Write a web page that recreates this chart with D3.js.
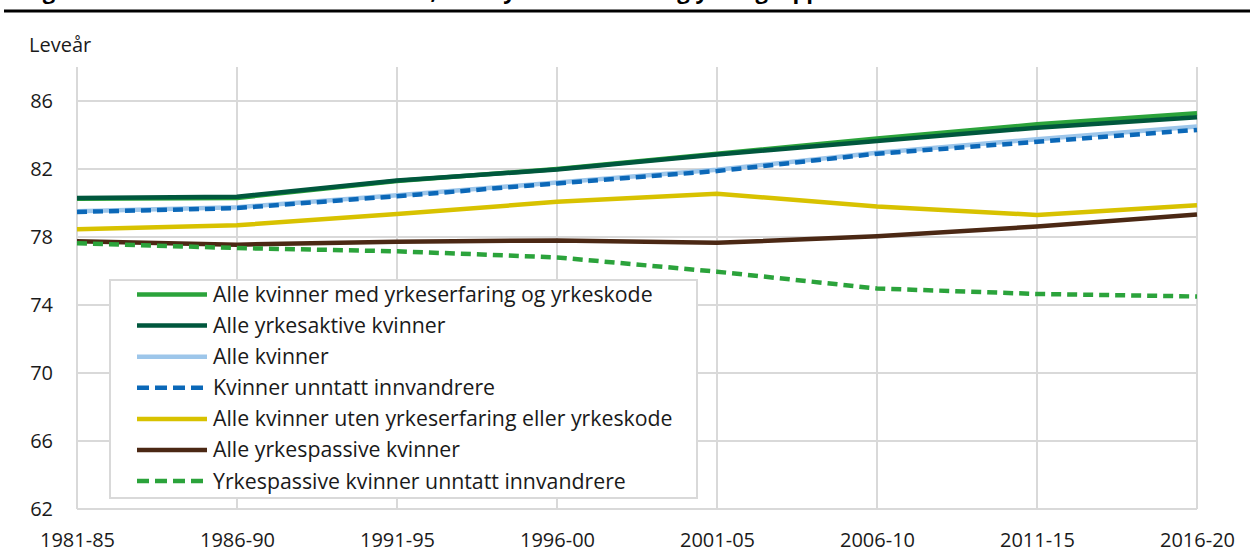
<!DOCTYPE html>
<html>
<head>
<meta charset="utf-8">
<script src="https://cdn.jsdelivr.net/npm/d3@7"></script>
<style>
  body { margin: 0; background: #fff; }
  svg { display: block; font-family: "Open Sans", "Noto Sans", sans-serif; }
</style>
</head>
<body>
<div id="chart"></div>
<script>
// periods on the x axis
const periods = ["1981-85", "1986-90", "1991-95", "1996-00", "2001-05", "2006-10", "2011-15", "2016-20"];
const yTicks = [62, 66, 70, 74, 78, 82, 86];

// series values (leveår)
const medYrkeskode = [80.25, 80.3, 81.3, 82.0, 82.9, 83.8, 84.63, 85.28];
const yrkesaktive = [80.3, 80.37, 81.32, 81.97, 82.85, 83.65, 84.43, 85.04];
const alleKvinner = [79.52, 79.75, 80.45, 81.2, 81.95, 82.95, 83.75, 84.5];
const unntattInnv = [79.47, 79.7, 80.4, 81.15, 81.88, 82.9, 83.6, 84.3];
const utenYrkeskode = [78.45, 78.69, 79.35, 80.07, 80.55, 79.8, 79.3, 79.87];
const yrkespassive = [77.75, 77.55, 77.72, 77.8, 77.66, 78.04, 78.62, 79.32];
const passivUnntatt = [77.63, 77.35, 77.16, 76.8, 75.96, 74.97, 74.65, 74.5];

const series = [
  { name: "Alle kvinner med yrkeserfaring og yrkeskode", values: medYrkeskode, color: "#2ba33b", dash: null },
  { name: "Alle yrkesaktive kvinner", values: yrkesaktive, color: "#00573d", dash: null },
  { name: "Alle kvinner", values: alleKvinner, color: "#9dc6ea", dash: null },
  { name: "Kvinner unntatt innvandrere", values: unntattInnv, color: "#0b68b8", dash: "10,6" },
  { name: "Alle kvinner uten yrkeserfaring eller yrkeskode", values: utenYrkeskode, color: "#d8c200", dash: null },
  { name: "Alle yrkespassive kvinner", values: yrkespassive, color: "#4b2814", dash: null },
  { name: "Yrkespassive kvinner unntatt innvandrere", values: passivUnntatt, color: "#2ba33b", dash: "10,6" }
];

const width = 1250, height = 554;
const margin = { top: 67, right: 53, bottom: 45, left: 77 };
const fontSize = "20px";

const svg = d3.select("#chart").append("svg")
    .attr("width", width)
    .attr("height", height);

// title (mostly cut off at top of the image) and rule under it
svg.append("text")
    .attr("x", 24)
    .attr("y", -1)
    .style("font-size", "22px")
    .style("font-weight", "bold")
    .attr("fill", "#000")
    .text("Figur 3. Forventet levealder ved 30 år, etter yrkesaktivitet og yrkesgruppe. Kvinner");
svg.append("rect")
    .attr("x", 4).attr("y", 9.5)
    .attr("width", width - 4).attr("height", 3)
    .attr("fill", "#000");

const x = d3.scalePoint()
    .domain(periods)
    .range([margin.left, width - margin.right]);

const y = d3.scaleLinear()
    .domain([62, 88])
    .range([height - margin.bottom, margin.top]);

const grid = svg.append("g");

// vertical grid lines at each period
grid.selectAll(".vgrid")
  .data(periods)
  .enter().append("line")
    .attr("class", "vgrid")
    .attr("x1", d => x(d)).attr("x2", d => x(d))
    .attr("y1", y(88)).attr("y2", y(62))
    .attr("stroke", "#d9d9d9")
    .attr("stroke-width", 2);

// horizontal grid lines
grid.selectAll(".hgrid")
  .data(yTicks)
  .enter().append("line")
    .attr("class", "hgrid")
    .attr("x1", margin.left).attr("x2", width - margin.right)
    .attr("y1", d => y(d)).attr("y2", d => y(d))
    .attr("stroke", "#d9d9d9")
    .attr("stroke-width", 2);

// y axis labels
const yAxis = svg.append("g")
    .attr("transform", `translate(${margin.left - 24},0)`)
    .call(d3.axisLeft(y).tickValues(yTicks).tickSize(0).tickPadding(0));
yAxis.select(".domain").remove();
yAxis.selectAll("text")
    .style("font-size", fontSize)
    .style("font-family", "'Open Sans', sans-serif")
    .attr("fill", "#1a1a1a");

// x axis labels
const xAxis = svg.append("g")
    .attr("transform", `translate(0,${height - margin.bottom})`)
    .call(d3.axisBottom(x).tickSize(0).tickPadding(24));
xAxis.select(".domain").remove();
xAxis.selectAll("text")
    .style("font-size", fontSize)
    .style("font-family", "'Open Sans', sans-serif")
    .attr("fill", "#1a1a1a");

svg.append("text")
    .attr("x", 29)
    .attr("y", 52)
    .style("font-size", fontSize)
    .attr("fill", "#1a1a1a")
    .text("Leveår");

// legend box sits behind the lines
const legend = svg.append("g").attr("transform", "translate(110,280)");
legend.append("rect")
    .attr("width", 587)
    .attr("height", 218)
    .attr("fill", "#fff")
    .attr("stroke", "#d9d9d9")
    .attr("stroke-width", 2);

const line = d3.line()
    .x((d, i) => x(periods[i]))
    .y(d => y(d));

svg.append("g").selectAll("path")
  .data(series)
  .enter().append("path")
    .attr("d", d => line(d.values))
    .attr("fill", "none")
    .attr("stroke", d => d.color)
    .attr("stroke-width", 4.5)
    .attr("stroke-dasharray", d => d.dash)
    .attr("stroke-linejoin", "round");

const rowH = 31.1;
const items = legend.selectAll(".item")
  .data(series)
  .enter().append("g")
    .attr("class", "item")
    .attr("transform", (d, i) => `translate(0,${14.5 + i * rowH})`);

items.append("line")
    .attr("x1", 27).attr("x2", 97)
    .attr("stroke", d => d.color)
    .attr("stroke-width", 4.5)
    .attr("stroke-dasharray", d => d.dash ? "12,6" : null);

items.append("text")
    .attr("x", 103)
    .attr("dy", "0.35em")
    .style("font-size", "21.3px")
    .attr("fill", "#1a1a1a")
    .text(d => d.name);
</script>
</body>
</html>
